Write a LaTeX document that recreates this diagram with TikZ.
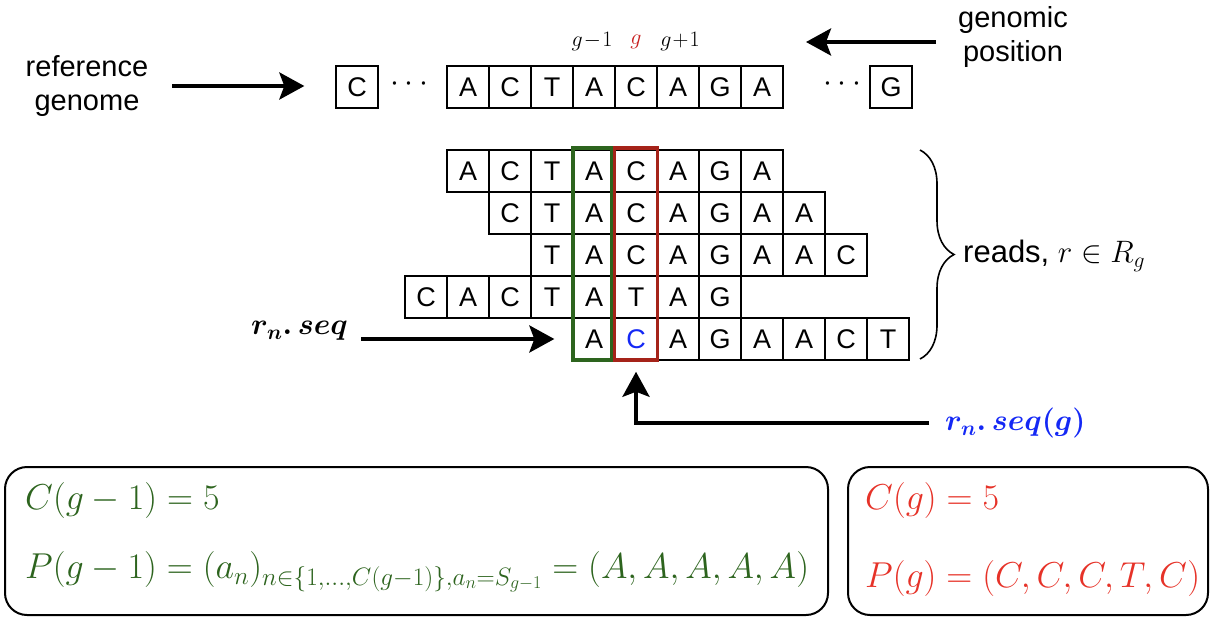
\RequirePackage{fix-cm}
\documentclass[tikz,border=0pt]{standalone}
\usepackage{amsmath,amssymb}
\usepackage{fontspec}
\newfontfamily\dnafont{Liberation Sans}
\usetikzlibrary{arrows.meta,decorations.pathreplacing}

\definecolor{gcol}{RGB}{45,100,30}
\definecolor{rboxcol}{RGB}{165,35,25}
\definecolor{rtext}{RGB}{230,50,40}
\definecolor{seqblue}{RGB}{20,40,245}
\definecolor{glab}{RGB}{200,30,30}

\tikzset{
  cell/.style={draw, line width=1.3pt, minimum size=42pt, inner sep=0pt,
               font=\dnafont\fontsize{27}{30}\selectfont},
  lbl/.style={font=\dnafont\fontsize{29}{34}\selectfont, align=center, inner sep=0pt},
  dots/.style={font=\fontsize{32}{34}\selectfont, inner sep=0pt},
  poslbl/.style={font=\fontsize{22}{24}\selectfont, inner sep=0pt},
  arr/.style={line width=4pt, -{Stealth[length=25pt,width=27pt,inset=5pt]}},
  panel/.style={draw, line width=2pt, rounded corners=22pt, inner sep=0pt},
  colbox/.style={draw, line width=3.5pt, minimum height=212pt, inner sep=0pt},
  mathbig/.style={font=\fontsize{36}{42}\selectfont, anchor=west, inner sep=0pt},
}

\begin{document}
\begin{tikzpicture}[x=1pt, y=-1pt]
\useasboundingbox (0,0) rectangle (1212,619);

% reference genome row
\node[cell] (c0) at (357,87) {C};
\node[dots] (dl) at (412,84) {$\cdots$};
\foreach \ch [count=\i from 0] in {A,C,T,A,C,A,G,A}
  \node[cell] (t\i) at ({468+42*\i},87) {\ch};
\node[dots] (dr) at (845,84) {$\cdots$};
\node[cell] (gend) at (891,87) {G};

% position labels
\node[poslbl] (lm) at (592,42) {$g\!-\!1$};
\node[poslbl, text=glab] (l0) at (636,42) {$g$};
\node[poslbl] (lp) at (680,42) {$g\!+\!1$};

% reads
\foreach \ch [count=\i from 0] in {A,C,T,A,C,A,G,A}
  \node[cell] (ra\i) at ({468+42*\i},171) {\ch};
\foreach \ch [count=\i from 0] in {C,T,A,C,A,G,A,A}
  \node[cell] (rb\i) at ({468+42*(\i+1)},213) {\ch};
\foreach \ch [count=\i from 0] in {T,A,C,A,G,A,A,C}
  \node[cell] (rc\i) at ({468+42*(\i+2)},255) {\ch};
\foreach \ch [count=\i from 0] in {C,A,C,T,A,T,A,G}
  \node[cell] (rd\i) at ({468+42*(\i-1)},297) {\ch};
\foreach \ch [count=\i from 0] in {A,{\color{seqblue}C},A,G,A,A,C,T}
  \node[cell] (re\i) at ({468+42*(\i+3)},339) {\ch};

% highlighted columns g-1 and g
\node[colbox, draw=gcol, minimum width=39pt] (gbox) at (592.5,254) {};
\node[colbox, draw=rboxcol, minimum width=43pt] (rbox) at (636,254) {};

% brace over the reads
\coordinate (btop) at (920,150);
\coordinate (bbot) at (920,359);
\draw[decorate, decoration={brace, amplitude=34pt, aspect=0.5}, line width=1.6pt] (btop) -- (bbot);
\node[anchor=west, inner sep=0pt, font=\dnafont\fontsize{31}{34}\selectfont] (reads) at (963,256)
  {reads, $r \in R_g$};

% side labels and arrows
\node[lbl] (ref) at (87,86) {reference\\genome};
\draw[arr] ([xshift=24pt]ref.east) -- ([xshift=-31pt]ref.east -| c0.west);

\node[lbl] (gp) at (1013,37) {genomic\\position};
\coordinate (gpend) at (806,42);
\draw[arr] ([xshift=-22pt]gp.west |- gpend) -- (gpend);

\node[anchor=east, inner sep=0pt, font=\fontsize{30}{34}\selectfont] (rseq) at (348,331)
  {$\boldsymbol{r_n.\,seq}$};
\draw[arr] ([xshift=13pt]rseq.east |- re0.west) -- ([xshift=-18pt]re0.west);

\node[anchor=west, inner sep=0pt, font=\fontsize{30}{34}\selectfont, text=seqblue] (rg) at (945,423)
  {$\boldsymbol{r_n.\,seq(g)}$};
\draw[arr] ([xshift=-16pt]rg.west) -| ([yshift=-10pt]rbox.south);

% summary panels
\node[panel, minimum width=823pt, minimum height=148pt] (pleft) at (416.5,541) {};
\node[panel, minimum width=360pt, minimum height=148pt] (pright) at (1028,541) {};

\node[mathbig, text=gcol] (cl) at (25,500) {$C(g-1) = 5$};
\node[mathbig, text=gcol] (pl) at (25,572)
  {$P(g-1) = (a_n)_{n\in\{1,\dots,C(g-1)\},a_n=S_{g-1}} = (A,A,A,A,A)$};
\node[mathbig, text=rtext] (cr) at (865,500) {$C(g) = 5$};
\node[mathbig, text=rtext] (pr) at (865,578) {$P(g) = (C,C,C,T,C)$};
\end{tikzpicture}
\end{document}
